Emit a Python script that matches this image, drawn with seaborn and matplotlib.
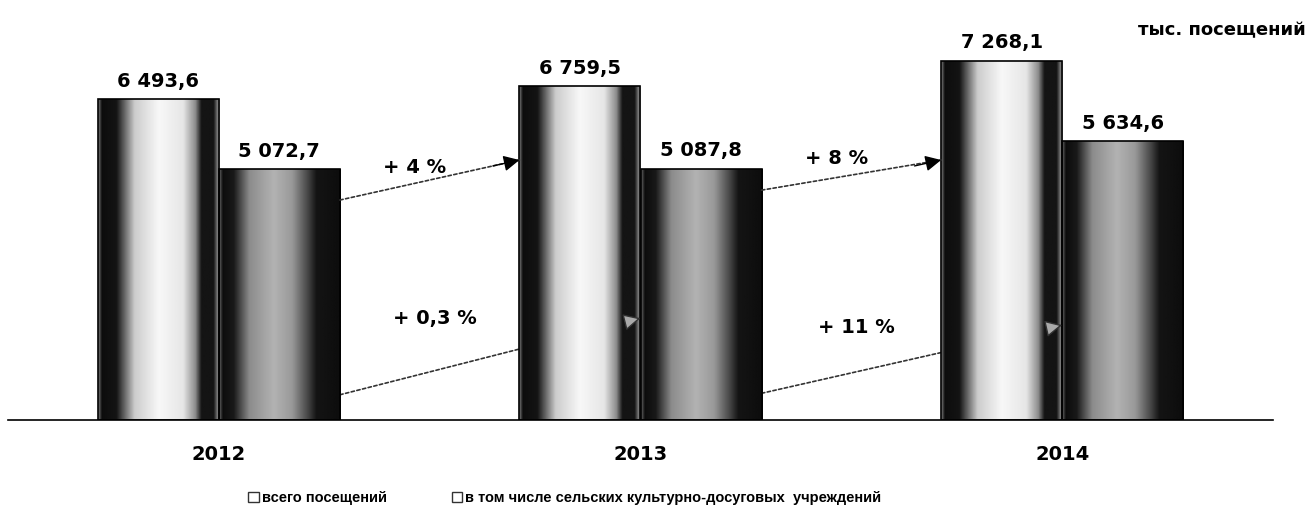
import numpy as np
import pandas as pd
import matplotlib
matplotlib.use("Agg")
import matplotlib.pyplot as plt
import seaborn as sns
from matplotlib.patches import Patch

# --- data ---
years = ["2012", "2013", "2014"]
series_names = ["всего посещений", "в том числе сельских культурно-досуговых  учреждений"]
total_visits = [6493.6, 6759.5, 7268.1]
rural_visits = [5072.7, 5087.8, 5634.6]
growth_total = ["+ 4 %", "+ 8 %"]
growth_rural = ["+ 0,3 %", "+ 11 %"]
unit_label = "тыс. посещений"

df = pd.DataFrame({
    "year": years * 2,
    "series": [series_names[0]] * 3 + [series_names[1]] * 3,
    "value": total_visits + rural_visits,
})


def fmt(v):
    s = f"{v:,.1f}"
    return s.replace(",", " ").replace(".", ",")


sns.set_style("white")
plt.rcParams["font.family"] = ["DejaVu Sans"]
plt.rcParams["text.color"] = "black"
plt.rcParams["xtick.color"] = "black"

fig = plt.figure(figsize=(13.11, 5.24), dpi=100)
ax = fig.add_axes([8 / 1311, 104 / 524, 1265 / 1311, 420 / 524])

sns.barplot(data=df, x="year", y="value", hue="series", palette=["white", "white"],
            width=0.574, gap=0, edgecolor="black", linewidth=1.2, legend=False, ax=ax)

# cylinder-like grey shading inside each bar (style only)
profiles = [
    ([0, .03, .15, .3, .5, .7, .8, .85, .95, 1], [.5, .05, .08, .8, .97, .9, .55, .08, .08, .7]),
    ([0, .03, .12, .25, .45, .6, .72, .8, 1], [.4, .05, .1, .55, .7, .6, .3, .08, .05]),
]
for k, cont in enumerate(ax.containers):
    xs, gs = profiles[k]
    grad = np.interp(np.linspace(0, 1, 200), xs, gs)[None, :]
    for bar in cont:
        x0, w, h = bar.get_x(), bar.get_width(), bar.get_height()
        im = ax.imshow(grad, cmap="gray", vmin=0, vmax=1, aspect="auto",
                       extent=[x0, x0 + w, 0, h], zorder=1, interpolation="bilinear")
        im.set_clip_path(bar)
        bar.set_facecolor("none")
        bar.set_zorder(3)
    ax.bar_label(cont, labels=[fmt(v) for v in cont.datavalues], padding=6,
                 fontsize=14, fontweight="bold")

# growth arrows between the years
line_kw = dict(arrowstyle="-", color="#333333", lw=1.2, linestyle=(0, (2, 1.5)),
               shrinkA=0, shrinkB=0)
upper_from = [4450, 4650]
upper_to = [5260, 5260]
lower_from = [510, 540]
lower_to = [2060, 1920]
for i in range(2):
    ax.annotate("", xy=(i + 0.713, upper_to[i]), xytext=(i + 0.287, upper_from[i]),
                arrowprops=dict(line_kw), zorder=4)
    ax.annotate("", xy=(i + 0.713, upper_to[i]), xytext=(i + 0.65, upper_to[i] - 120),
                arrowprops=dict(arrowstyle="-|>", color="black", lw=1, mutation_scale=24,
                                shrinkA=0, shrinkB=0), zorder=4)
    # lower line passes behind the taller bar, only its head shows
    ax.annotate("", xy=(i + 1.0, lower_to[i]), xytext=(i + 0.287, lower_from[i]),
                arrowprops=dict(line_kw), zorder=0.5)
    slope = (lower_to[i] - lower_from[i]) / 0.713
    ax.annotate("", xy=(i + 1.0, lower_to[i]), xytext=(i + 0.975, lower_to[i] - 0.025 * slope),
                arrowprops=dict(arrowstyle="-|>", fc="#aaaaaa", ec="#333333", lw=1,
                                mutation_scale=26, shrinkA=0, shrinkB=0), zorder=4)
    ax.text(i + 0.465, 5100 + 200 * i, growth_total[i], ha="center", va="center",
            fontsize=14, fontweight="bold")
    ax.text(i + 0.512, 2060 - 180 * i, growth_rural[i], ha="center", va="center",
            fontsize=14, fontweight="bold")

ax.set_xlim(-0.5, 2.5)
ax.set_ylim(0, 420 / 0.04943)
ax.set_xlabel("")
ax.set_ylabel("")
ax.set_yticks([])
for side in ["top", "left", "right"]:
    ax.spines[side].set_visible(False)
ax.spines["bottom"].set_linewidth(1.2)
ax.spines["bottom"].set_color("black")
ax.set_xticks([-0.5, 0.5, 1.5, 2.5], minor=True)
ax.tick_params(axis="x", which="minor", length=8, width=1.2, direction="out")
ax.tick_params(axis="x", which="major", length=0, pad=18, labelsize=14)
for t in ax.get_xticklabels():
    t.set_fontweight("bold")

fig.text(0.996, 1 - 30 / 524, unit_label, ha="right", va="center",
         fontsize=13, fontweight="bold")

handles = [Patch(facecolor="white", edgecolor="#333333", linewidth=1.0) for _ in series_names]
fig.legend(handles, series_names, loc="center", bbox_to_anchor=(565 / 1311, 1 - 498 / 524),
           ncol=2, frameon=False, handlelength=0.7, handleheight=0.7, handletextpad=0.2,
           columnspacing=4.5, prop={"family": "Liberation Sans", "weight": "bold", "size": 10.5})

fig.savefig("out.png", dpi=100)
